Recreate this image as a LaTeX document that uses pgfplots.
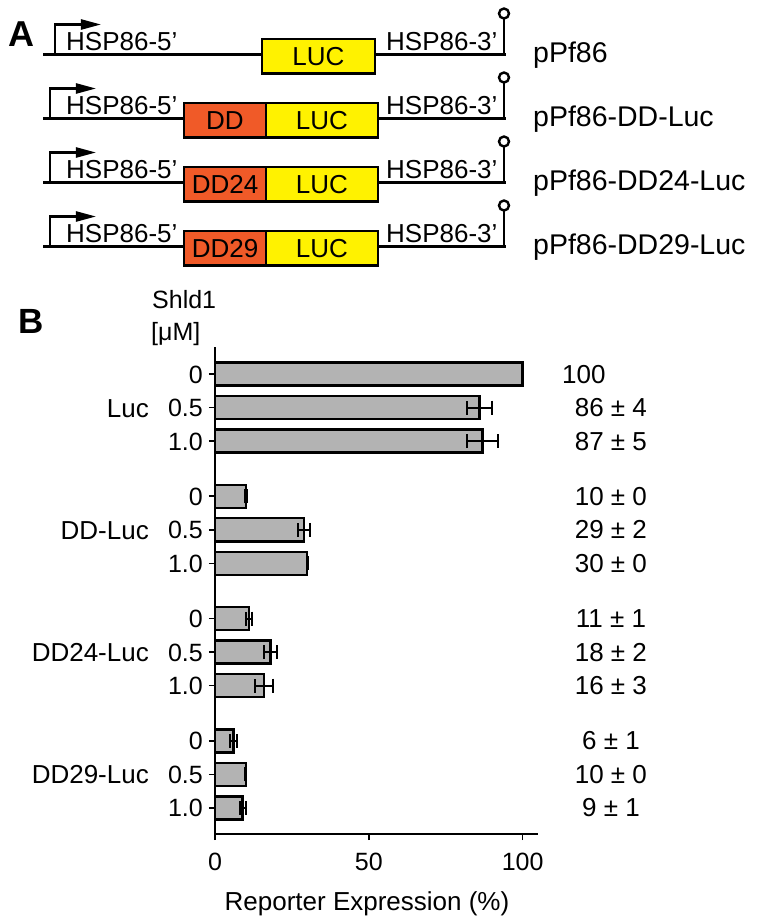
\documentclass[border=0pt]{standalone}
\usepackage{fontspec}
\setmainfont{Liberation Sans}
\usepackage{pgfplots}
\pgfplotsset{compat=1.18}
\usepackage{pgfplotstable}
\usetikzlibrary{arrows.meta}
\definecolor{lucY}{RGB}{255,242,0}
\definecolor{ddO}{RGB}{240,90,40}
\definecolor{barG}{RGB}{179,179,179}
\newcommand\fsz[1]{\fontsize{#1bp}{#1bp}\selectfont}
\tikzset{
  vallab/.style={anchor=base, inner sep=0pt, font=\fsz{26}, yshift=-9bp},
  grplab/.style={anchor=base east, inner sep=0pt, font=\fsz{26}, yshift=-9.5bp},
}

% y = -(row position), x = expression (%), e = error (0 shown as a tiny cap)
\pgfplotstableread{
y x e
-1 86 4
-2 87 5
-3.65 10 0.3
-4.65 29 2
-5.65 30 0.1
-7.3 11 1
-8.3 18 2
-9.3 16 3
-10.95 6 1
-11.95 10 0.1
-12.95 9 1
}\datab

\newcommand\construct[5]{% #1 line y, #2 promoter x, #3 box left, #4 DD label (empty for none), #5 right label
  \draw (43,#1) -- (506,#1);
  \draw[-{Triangle[length=20bp,width=10bp]}] (#2,#1) -- (#2,#1-30) -- (#2+46,#1-30);
  \node[anchor=base west, inner sep=0pt, font=\fsz{26}] at (65,#1-4) {HSP86-5’};
  \node[anchor=base west, inner sep=0pt, font=\fsz{26}] at (385,#1-4) {HSP86-3’};
  \draw (504,#1) -- (504,#1-36);
  \draw[fill=white] (504,#1-41) circle[radius=5];
  \ifx\relax#4\relax
    \draw[fill=lucY] (262,#1-15.5) rectangle (375,#1+19);
    \node[font=\fsz{26}, inner sep=0pt] at (318.5,#1+1.75) {LUC};
  \else
    \draw[fill=ddO] (184,#1-15.5) rectangle (266,#1+19);
    \node[font=\fsz{26}, inner sep=0pt] at (225,#1+1.75) {#4};
    \draw[fill=lucY] (266,#1-15.5) rectangle (378,#1+19);
    \node[font=\fsz{26}, inner sep=0pt] at (322,#1+1.75) {LUC};
  \fi
  \node[anchor=base west, inner sep=0pt, font=\fsz{28.5}] at (532,#1+8) {#5};
}

\begin{document}
\begin{tikzpicture}
\useasboundingbox (0,0) rectangle (760bp,-920bp);
\begin{scope}[x=1bp,y=-1bp, line width=2.4bp]
  \node[anchor=base west, inner sep=0pt, font=\fsz{36}\bfseries] at (7,46) {A};
  \construct{54.5}{55}{262}{}{pPf86}
  \construct{118.5}{50}{184}{DD}{pPf86-DD-Luc}
  \construct{182.5}{50}{184}{DD24}{pPf86-DD24-Luc}
  \construct{246.5}{50}{184}{DD29}{pPf86-DD29-Luc}
  \node[anchor=base west, inner sep=0pt, font=\fsz{35}\bfseries] at (17,333) {B};
  \node[anchor=base west, inner sep=0pt, font=\fsz{25}] at (151,308) {Shld1};
  \node[anchor=base west, inner sep=0pt, font=\fsz{25}] at (150,340) {[μM]};
\end{scope}
\begin{axis}[
  at={(215bp,-834bp)}, anchor=south west, scale only axis,
  width=323bp, height=487bp,
  xmin=0, xmax=105, ymin=-13.73, ymax=0.806,
  axis x line=bottom, axis y line=left,
  axis line style={-, line width=2bp, black},
  xbar, bar width=0.69, bar shift=0pt,
  xtick={0,50,100},
  ytick={-12.95,-11.95,-10.95,-9.3,-8.3,-7.3,-5.65,-4.65,-3.65,-2,-1,0},
  yticklabels={1.0,0.5,0,1.0,0.5,0,1.0,0.5,0,1.0,0.5,0},
  tick align=outside, major tick length=6bp,
  tick style={line width=1.6bp, black},
  ticklabel style={font=\fsz{25}, inner sep=0pt},
  /pgf/number format/assume math mode=true,
  xticklabel style={anchor=base, yshift=-30bp},
  yticklabel style={anchor=base east, yshift=-9bp, xshift=-6bp},
  xlabel={Reporter Expression (\%)},
  xlabel style={font=\fsz{26}, at={(axis description cs:0.4706,0)}, anchor=base, yshift=-76bp, inner sep=0pt},
  clip=false,
]
\addplot[fill=barG, draw=black, line width=2.4bp] coordinates {(100,0)};
\addplot[fill=barG, draw=black, line width=2.4bp,
  error bars/.cd, x dir=both, x explicit, error mark=|,
  error bar style={line width=2bp, black},
  error mark options={line width=2bp, mark size=7bp, black}]
  table[x=x, y=y, x error=e] {\datab};
\node[vallab] at (axis cs:119.9,0) {100};
\node[vallab] at (axis cs:128.7,-1) {86 ± 4};
\node[vallab] at (axis cs:128.7,-2) {87 ± 5};
\node[vallab] at (axis cs:128.7,-3.65) {10 ± 0};
\node[vallab] at (axis cs:128.7,-4.65) {29 ± 2};
\node[vallab] at (axis cs:128.7,-5.65) {30 ± 0};
\node[vallab] at (axis cs:128.7,-7.3) {11 ± 1};
\node[vallab] at (axis cs:128.7,-8.3) {18 ± 2};
\node[vallab] at (axis cs:128.7,-9.3) {16 ± 3};
\node[vallab] at (axis cs:128.7,-10.95) {6 ± 1};
\node[vallab] at (axis cs:128.7,-11.95) {10 ± 0};
\node[vallab] at (axis cs:128.7,-12.95) {9 ± 1};
\node[grplab] at (axis cs:-21.45,-1) {Luc};
\node[grplab] at (axis cs:-21.45,-4.65) {DD-Luc};
\node[grplab] at (axis cs:-21.45,-8.3) {DD24-Luc};
\node[grplab] at (axis cs:-21.45,-11.95) {DD29-Luc};
\end{axis}
\end{tikzpicture}
\end{document}
